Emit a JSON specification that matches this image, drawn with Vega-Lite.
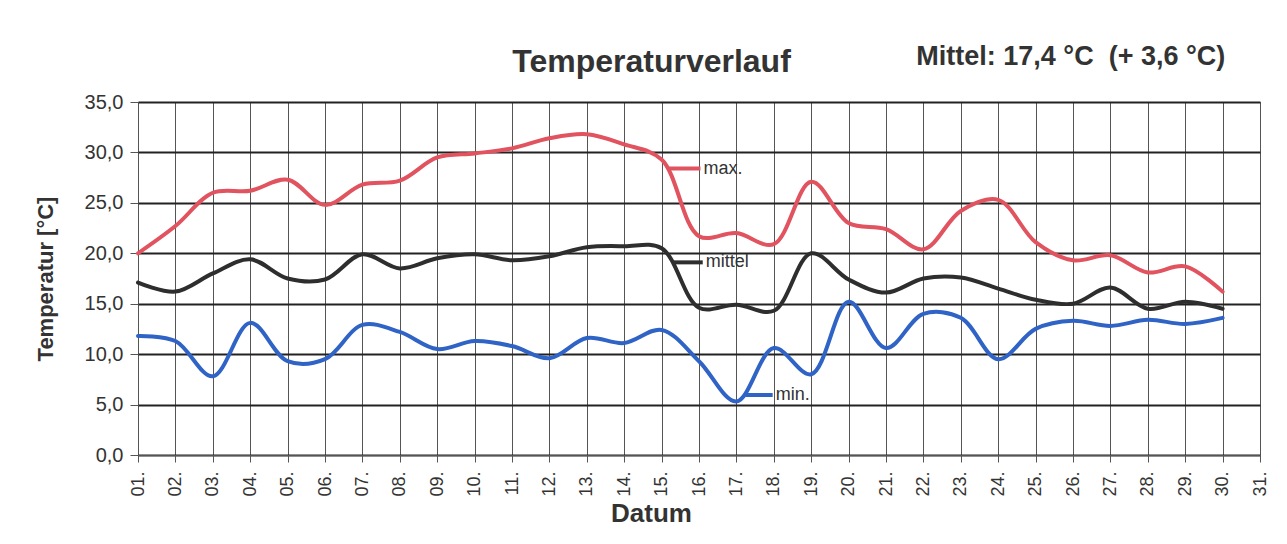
{
  "$schema": "https://vega.github.io/schema/vega-lite/v6.json",
  "width": 1122,
  "height": 353,
  "autosize": {"type": "none"},
  "padding": {"left": 138, "top": 102, "right": 27, "bottom": 89},
  "background": "white",
  "config": {
    "view": {"stroke": "#777777", "strokeWidth": 1},
    "axis": {
      "labelFont": "Liberation Sans",
      "titleFont": "Liberation Sans",
      "labelColor": "#333333",
      "titleColor": "#333333"
    }
  },
  "datasets": {
    "temps": [
      {"day": 1, "series": "max", "temp": 20.0},
      {"day": 2, "series": "max", "temp": 22.7},
      {"day": 3, "series": "max", "temp": 26.0},
      {"day": 4, "series": "max", "temp": 26.2},
      {"day": 5, "series": "max", "temp": 27.3},
      {"day": 6, "series": "max", "temp": 24.8},
      {"day": 7, "series": "max", "temp": 26.8},
      {"day": 8, "series": "max", "temp": 27.2},
      {"day": 9, "series": "max", "temp": 29.5},
      {"day": 10, "series": "max", "temp": 29.9},
      {"day": 11, "series": "max", "temp": 30.4},
      {"day": 12, "series": "max", "temp": 31.4},
      {"day": 13, "series": "max", "temp": 31.8},
      {"day": 14, "series": "max", "temp": 30.8},
      {"day": 15, "series": "max", "temp": 29.3},
      {"day": 16, "series": "max", "temp": 21.7},
      {"day": 17, "series": "max", "temp": 22.0},
      {"day": 18, "series": "max", "temp": 20.9},
      {"day": 19, "series": "max", "temp": 27.1},
      {"day": 20, "series": "max", "temp": 23.0},
      {"day": 21, "series": "max", "temp": 22.4},
      {"day": 22, "series": "max", "temp": 20.4},
      {"day": 23, "series": "max", "temp": 24.2},
      {"day": 24, "series": "max", "temp": 25.3},
      {"day": 25, "series": "max", "temp": 21.1},
      {"day": 26, "series": "max", "temp": 19.3},
      {"day": 27, "series": "max", "temp": 19.8},
      {"day": 28, "series": "max", "temp": 18.1},
      {"day": 29, "series": "max", "temp": 18.7},
      {"day": 30, "series": "max", "temp": 16.2},
      {"day": 1, "series": "mittel", "temp": 17.1},
      {"day": 2, "series": "mittel", "temp": 16.2},
      {"day": 3, "series": "mittel", "temp": 18.0},
      {"day": 4, "series": "mittel", "temp": 19.4},
      {"day": 5, "series": "mittel", "temp": 17.5},
      {"day": 6, "series": "mittel", "temp": 17.4},
      {"day": 7, "series": "mittel", "temp": 19.9},
      {"day": 8, "series": "mittel", "temp": 18.5},
      {"day": 9, "series": "mittel", "temp": 19.5},
      {"day": 10, "series": "mittel", "temp": 19.9},
      {"day": 11, "series": "mittel", "temp": 19.3},
      {"day": 12, "series": "mittel", "temp": 19.7},
      {"day": 13, "series": "mittel", "temp": 20.6},
      {"day": 14, "series": "mittel", "temp": 20.7},
      {"day": 15, "series": "mittel", "temp": 20.5},
      {"day": 16, "series": "mittel", "temp": 14.6},
      {"day": 17, "series": "mittel", "temp": 14.9},
      {"day": 18, "series": "mittel", "temp": 14.3},
      {"day": 19, "series": "mittel", "temp": 20.0},
      {"day": 20, "series": "mittel", "temp": 17.4},
      {"day": 21, "series": "mittel", "temp": 16.1},
      {"day": 22, "series": "mittel", "temp": 17.5},
      {"day": 23, "series": "mittel", "temp": 17.6},
      {"day": 24, "series": "mittel", "temp": 16.5},
      {"day": 25, "series": "mittel", "temp": 15.4},
      {"day": 26, "series": "mittel", "temp": 15.0},
      {"day": 27, "series": "mittel", "temp": 16.6},
      {"day": 28, "series": "mittel", "temp": 14.5},
      {"day": 29, "series": "mittel", "temp": 15.2},
      {"day": 30, "series": "mittel", "temp": 14.5},
      {"day": 1, "series": "min", "temp": 11.8},
      {"day": 2, "series": "min", "temp": 11.3},
      {"day": 3, "series": "min", "temp": 7.8},
      {"day": 4, "series": "min", "temp": 13.1},
      {"day": 5, "series": "min", "temp": 9.3},
      {"day": 6, "series": "min", "temp": 9.5},
      {"day": 7, "series": "min", "temp": 12.9},
      {"day": 8, "series": "min", "temp": 12.2},
      {"day": 9, "series": "min", "temp": 10.5},
      {"day": 10, "series": "min", "temp": 11.3},
      {"day": 11, "series": "min", "temp": 10.8},
      {"day": 12, "series": "min", "temp": 9.6},
      {"day": 13, "series": "min", "temp": 11.6},
      {"day": 14, "series": "min", "temp": 11.1},
      {"day": 15, "series": "min", "temp": 12.4},
      {"day": 16, "series": "min", "temp": 9.3},
      {"day": 17, "series": "min", "temp": 5.3},
      {"day": 18, "series": "min", "temp": 10.6},
      {"day": 19, "series": "min", "temp": 8.0},
      {"day": 20, "series": "min", "temp": 15.2},
      {"day": 21, "series": "min", "temp": 10.6},
      {"day": 22, "series": "min", "temp": 14.0},
      {"day": 23, "series": "min", "temp": 13.6},
      {"day": 24, "series": "min", "temp": 9.5},
      {"day": 25, "series": "min", "temp": 12.5},
      {"day": 26, "series": "min", "temp": 13.3},
      {"day": 27, "series": "min", "temp": 12.8},
      {"day": 28, "series": "min", "temp": 13.4},
      {"day": 29, "series": "min", "temp": 13.0},
      {"day": 30, "series": "min", "temp": 13.6}
    ],
    "labels": [
      {"day": 15.18, "day2": 16.04, "temp": 28.4, "series": "max", "label": "max."},
      {"day": 15.3, "day2": 16.1, "temp": 19.1, "series": "mittel", "label": "mittel"},
      {"day": 17.24, "day2": 17.97, "temp": 5.95, "series": "min", "label": "min."}
    ],
    "heading": [
      {"day": 14.73, "temp": 38.95, "label": "Temperaturverlauf"}
    ],
    "note": [
      {"day": 25.94, "temp": 39.5, "label": "Mittel: 17,4 °C\u00a0 (+ 3,6 °C)"}
    ]
  },
  "layer": [
    {
      "data": {"name": "temps"},
      "mark": {"type": "line", "interpolate": "catmull-rom", "strokeWidth": 4, "strokeCap": "round"},
      "encoding": {
        "x": {
          "field": "day",
          "type": "quantitative",
          "scale": {"domain": [1, 31], "nice": false, "zero": false},
          "axis": {
            "values": [1,2,3,4,5,6,7,8,9,10,11,12,13,14,15,16,17,18,19,20,21,22,23,24,25,26,27,28,29,30,31],
            "tickCount": 40,
            "labelExpr": "(datum.value < 10 ? '0' : '') + datum.value + '.'",
            "labelAngle": -90,
            "labelOverlap": false,
            "labelBound": false,
            "labelFontSize": 18,
            "labelPadding": 9,
            "tickSize": 7,
            "tickColor": "#555555",
            "domainColor": "#555555",
            "grid": true,
            "gridColor": "#555555",
            "gridWidth": 1,
            "title": "Datum",
            "titleFontSize": 26,
            "titleFontWeight": "bold",
            "titleX": 513,
            "titlePadding": 4
          }
        },
        "y": {
          "field": "temp",
          "type": "quantitative",
          "scale": {"domain": [0, 35], "nice": false},
          "axis": {
            "values": [0, 5, 10, 15, 20, 25, 30, 35],
            "labelExpr": "replace(format(datum.value, '.1f'), '.', ',')",
            "labelFontSize": 20,
            "labelPadding": 7,
            "tickSize": 8,
            "tickColor": "#555555",
            "domain": false,
            "grid": true,
            "gridColor": "#222222",
            "gridWidth": 2,
            "title": "Temperatur [°C]",
            "titleFontSize": 22,
            "titleFontWeight": "bold",
            "titlePadding": 27
          }
        },
        "color": {
          "field": "series",
          "type": "nominal",
          "scale": {"domain": ["max", "mittel", "min"], "range": ["#e0535f", "#2e2e2e", "#2f63c6"]},
          "legend": null
        },
        "detail": {"field": "series"}
      }
    },
    {
      "data": {"name": "labels"},
      "mark": {"type": "rule", "strokeWidth": 4},
      "encoding": {
        "x": {"field": "day", "type": "quantitative"},
        "x2": {"field": "day2"},
        "y": {"field": "temp", "type": "quantitative"},
        "color": {"field": "series", "type": "nominal", "legend": null}
      }
    },
    {
      "data": {"name": "labels"},
      "mark": {"type": "text", "align": "left", "baseline": "middle", "dx": 3, "font": "Liberation Sans", "fontSize": 18, "color": "#333333"},
      "encoding": {
        "x": {"field": "day2", "type": "quantitative"},
        "y": {"field": "temp", "type": "quantitative"},
        "text": {"field": "label"}
      }
    },
    {
      "data": {"name": "heading"},
      "mark": {"type": "text", "align": "center", "baseline": "middle", "font": "Liberation Sans", "fontSize": 32, "fontWeight": "bold", "color": "#333333"},
      "encoding": {
        "x": {"field": "day", "type": "quantitative"},
        "y": {"field": "temp", "type": "quantitative"},
        "text": {"field": "label"}
      }
    },
    {
      "data": {"name": "note"},
      "mark": {"type": "text", "align": "center", "baseline": "middle", "font": "Liberation Sans", "fontSize": 27, "fontWeight": "bold", "color": "#333333"},
      "encoding": {
        "x": {"field": "day", "type": "quantitative"},
        "y": {"field": "temp", "type": "quantitative"},
        "text": {"field": "label"}
      }
    }
  ]
}
